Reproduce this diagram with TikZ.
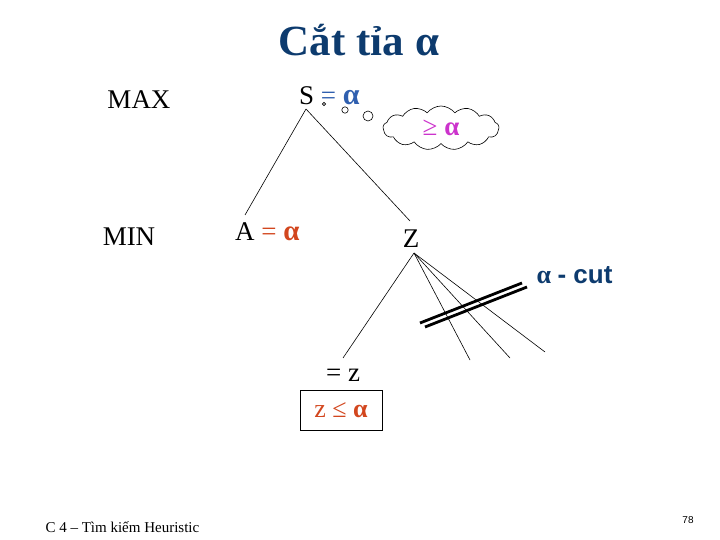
\documentclass[tikz,border=0pt]{standalone}
\usepackage{fontspec}
\setmainfont{Liberation Serif}
\newfontfamily\cutfont{Liberation Sans}
\usetikzlibrary{shapes.symbols}
\definecolor{titleblue}{RGB}{13,59,110}
\definecolor{sblue}{RGB}{47,95,175}
\definecolor{aorange}{RGB}{210,70,30}
\definecolor{cloudpink}{RGB}{204,51,204}
\tikzset{
  level/.style={font=\fontsize{27}{29}\selectfont, inner sep=0pt},
  edge/.style={line width=0.6pt},
}

\begin{document}
\begin{tikzpicture}[x=1pt,y=-1pt]
\useasboundingbox (0,0) rectangle (720,540);
\node[font=\fontsize{43}{46}\selectfont\bfseries, text=titleblue] (title) at (359,40) {Cắt tỉa α};
\node[level] (max) at (139,100) {MAX};
\node[level] (min) at (129,237) {MIN};
% tree nodes
\node[level, anchor=west] (s) at (299,96) {S \textcolor{sblue}{= {\fontsize{30}{30}\selectfont\textbf{α}}}};
\node[level, anchor=west] (a) at (235,232) {A \textcolor{aorange}{= {\fontsize{29}{29}\selectfont\textbf{α}}}};
\node[level] (z) at (411,239) {Z};
\node[level] (eqz) at (343,375) {= z};
\node[draw, line width=0.6pt, minimum width=82pt, minimum height=40pt, inner sep=0pt,
  font=\fontsize{26}{28}\selectfont, text=aorange] (zbox) at (341,410) {z ≤ \textbf{α}};
\coordinate (stop) at (306,109);
\coordinate (aend) at (245,215);
\coordinate (zend) at (410,221);
\coordinate (ztop) at (414,253);
\coordinate (eqtop) at (343,358);
\coordinate (l1) at (470,360);
\coordinate (l2) at (510,358);
\coordinate (l3) at (545,352);
\draw[edge] (stop) -- (aend);
\draw[edge] (stop) -- (zend);
\draw[edge] (ztop) -- (eqtop);
\foreach \leaf in {l1,l2,l3}
  \draw[edge] (ztop) -- (\leaf);
% the cut
\draw[line width=2.8pt] (420,323) -- (522,283);
\draw[line width=2.8pt] (425,327) -- (527,287);
\node[anchor=west, font=\fontsize{26}{28}\selectfont\bfseries, text=titleblue] (cut) at (533,275) {α \cutfont - cut};
% thought bubble
\draw[edge] (324,104) circle (1.6);
\draw[edge] (345,110) circle (3.2);
\draw[edge] (368,116) circle (5);
\node[cloud, draw, cloud puffs=13, cloud puff arc=105, aspect=2.6, minimum width=116pt,
  minimum height=44pt, inner sep=0pt, line width=0.6pt,
  font=\fontsize{27}{28}\selectfont, text=cloudpink] (think) at (441,128) {≥ \textbf{α}};
% footer
\node[anchor=west, font=\fontsize{15}{17}\selectfont] (foot) at (42,527) {C 4 – Tìm kiếm Heuristic};
\node[font=\cutfont\fontsize{10}{11}\selectfont] (page) at (688,520) {78};
\end{tikzpicture}
\end{document}
